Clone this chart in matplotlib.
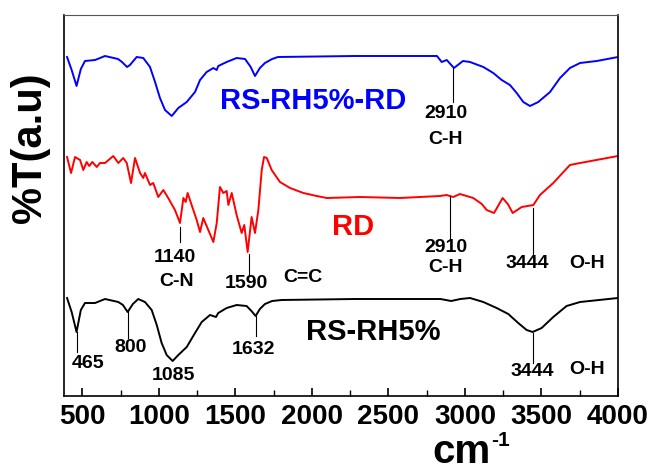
import matplotlib
matplotlib.use("Agg")
import matplotlib.pyplot as plt
from matplotlib.ticker import MultipleLocator

plt.rcParams['font.family'] = ['Liberation Sans', 'DejaVu Sans']

# ---- data (wavenumber cm-1, transmittance a.u. with vertical offsets) ----
blue_x = [400, 430, 462, 490, 517, 583, 648, 733, 759, 792, 811, 855, 898, 942, 975,
          1007, 1040, 1084, 1127, 1182, 1236, 1269, 1312, 1356, 1378, 1388, 1443,
          1508, 1563, 1600, 1628, 1660, 1693, 1740, 1778, 2281, 2817,
          2848, 2881, 2928, 2987, 3033, 3120, 3185, 3240, 3294, 3338, 3381, 3425,
          3479, 3556, 3621, 3686, 3752, 3861, 4000]
blue_y = [343, 330, 314, 331, 339, 340, 344, 341, 338, 333, 335, 343, 342, 333, 318,
          302, 290, 284, 292, 298, 308, 320, 328, 332, 330, 334, 338,
          342, 341, 333, 324, 332, 337, 341, 343, 344, 344,
          338, 340, 332, 339, 338, 333, 327, 320, 315, 307, 298, 294,
          298, 308, 322, 332, 337, 339, 343]

red_x = [400, 426, 452, 485, 506, 528, 545, 565, 594, 615, 648, 702, 735, 767, 790,
         818, 844, 877, 898, 909, 942, 963, 996, 1029, 1061, 1105, 1138, 1160, 1175,
         1188, 1214, 1247, 1269, 1290, 1323, 1356, 1378, 1399, 1421, 1443, 1454,
         1476, 1508, 1541, 1558, 1580, 1606, 1628, 1650, 1672, 1687, 1705, 1737,
         1791, 1857, 1944, 2031, 2097, 2314, 2575, 2837, 2880, 2924, 2967, 3054,
         3110, 3142, 3190, 3220, 3246, 3280, 3312, 3371, 3447, 3490, 3577, 3686,
         3752, 4000]
red_y = [243, 227, 243, 240, 230, 238, 234, 238, 233, 237, 237, 244, 237, 242, 237,
         217, 242, 227, 222, 227, 215, 217, 203, 210, 202, 190, 177, 202, 198,
         207, 195, 180, 168, 182, 170, 158, 177, 213, 207, 209, 195,
         207, 185, 167, 175, 148, 183, 167, 190, 230, 243, 242, 230,
         218, 212, 207, 204, 202, 203, 202, 204, 205, 203, 206, 202,
         196, 190, 187, 195, 202, 196, 187, 193, 195, 205, 217, 235,
         237, 244]

black_x = [400, 430, 462, 490, 517, 583, 648, 735, 765, 796, 830, 865, 909, 953, 986,
           1018, 1051, 1090, 1127, 1182, 1236, 1280, 1334, 1373, 1388, 1443, 1508,
           1573, 1605, 1632, 1660, 1693, 1740, 1802, 2281, 2840, 2910, 2970, 3033,
           3120, 3207, 3283, 3348, 3403, 3442, 3501, 3577, 3664, 3752, 4000]
black_y = [102, 88, 68, 90, 97, 97, 101, 98, 95, 88, 96, 101, 98, 90, 75,
           57, 45, 39, 45, 53, 67, 78, 85, 83, 87, 92, 95,
           94, 89, 84, 91, 96, 99, 100, 101, 101, 99, 101, 102,
           98, 92, 86, 77, 70, 68, 72, 83, 94, 98, 102]

fig = plt.figure(figsize=(6.49, 4.70), dpi=100)
ax = fig.add_axes([64/649, 1-396/470, (618-64)/649, (396-15)/470])

ax.plot(blue_x, blue_y, color='#0000ff', lw=1.4)
ax.plot(red_x, red_y, color='#ff0000', lw=1.4)
ax.plot(black_x, black_y, color='black', lw=1.4)

ax.set_xlim(380, 4000)
ax.set_ylim(4, 385)

ax.xaxis.set_major_locator(MultipleLocator(500))
ax.xaxis.set_minor_locator(MultipleLocator(250))
ax.tick_params(axis='x', which='major', direction='in', length=6, width=1.2,
               labelsize=20, pad=6)
ax.tick_params(axis='x', which='minor', direction='in', length=4, width=1.0)
for lab in ax.get_xticklabels():
    lab.set_fontweight('bold')
ax.set_yticks([])
for side in ['left', 'bottom', 'right']:
    ax.spines[side].set_linewidth(1.2)
ax.spines['top'].set_color('#555555')

# axis titles
fig.text(462/649, 1-463/470, 'cm', fontsize=29, fontweight='bold',
         ha='center', va='baseline')
fig.text(501/649, 1-446/470, '-1', fontsize=15, fontweight='bold',
         ha='center', va='baseline')
fig.text(30/649, 1-148/470, '%T(a.u)', rotation=90, ha='center', va='center',
         fontsize=30, fontweight='bold')

# sample names
ax.text(2007, 299, 'RS-RH5%-RD', color='#0000ff', fontsize=21, fontweight='bold',
        ha='center', va='center')
ax.text(2268, 173, 'RD', color='#ff0000', fontsize=21, fontweight='bold',
        ha='center', va='center')
ax.text(2399, 68, 'RS-RH5%', color='black', fontsize=21, fontweight='bold',
        ha='center', va='center')

fs = 14
def lbl(x, y, s):
    ax.text(x, y, s, fontsize=fs, fontweight='bold', ha='center', va='center')

def vline(x, y0, y1):
    ax.plot([x, x], [y0, y1], color='black', lw=0.8)

# blue annotations
vline(2920, 332, 298)
lbl(2876, 287, '2910')
lbl(2876, 260, 'C-H')
# red annotations
vline(1140, 173, 158)
lbl(1105, 142, '1140')
lbl(1118, 118, 'C-N')
vline(1590, 146, 125)
lbl(1569, 117, '1590')
lbl(1942, 123, 'C=C')
vline(2900, 204, 160)
lbl(2876, 153, '2910')
lbl(2876, 132, 'C-H')
vline(3444, 192, 142)
lbl(3405, 136, '3444')
lbl(3797, 136, 'O-H')
# black annotations
vline(465, 68, 48)
lbl(537, 37, '465')
vline(800, 89, 62)
lbl(818, 53, '800')
lbl(1092, 24, '1085')
vline(1632, 84, 64)
lbl(1621, 51, '1632')
vline(3444, 67, 37)
lbl(3438, 29, '3444')
lbl(3797, 31, 'O-H')

fig.savefig('out.png', dpi=100)
